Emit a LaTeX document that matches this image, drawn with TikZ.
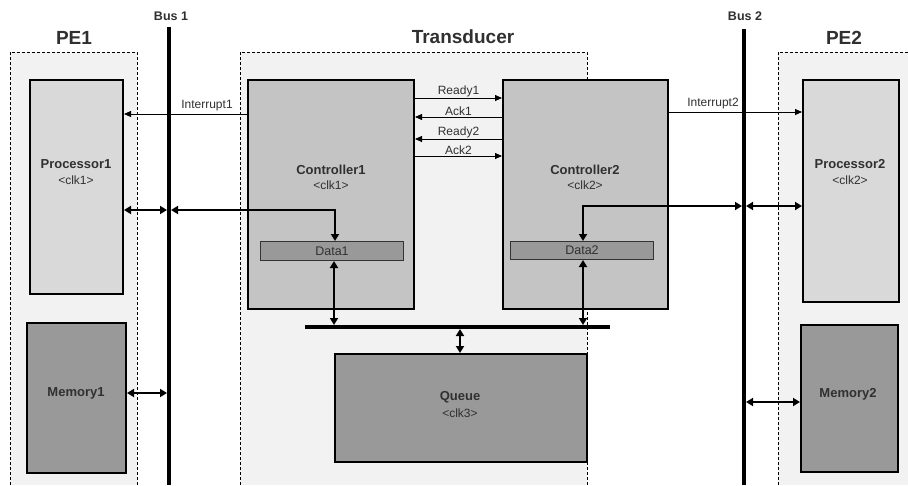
\documentclass[tikz,border=0pt]{standalone}
\usepackage{fontspec}
\setmainfont{Liberation Sans}
\usetikzlibrary{arrows.meta}
\definecolor{txt}{HTML}{303030}
\definecolor{bggray}{HTML}{F2F2F2}
\definecolor{procgray}{HTML}{D9D9D9}
\definecolor{ctrlgray}{HTML}{C4C4C4}
\definecolor{memgray}{HTML}{999999}
\tikzset{
  x=1pt, y=-1pt,
  group/.style={draw=black, dash pattern=on 3pt off 2pt, line width=0.8pt},
  blk/.style={draw=black, line width=2pt, inner sep=0pt, anchor=north west},
  databar/.style={draw=black!80, fill=memgray, line width=1pt, inner sep=0pt, anchor=north west, font=\fontsize{12.5}{14}\selectfont, text=txt},
  title/.style={font=\bfseries\fontsize{13}{15}\selectfont, text=txt, align=center},
  sub/.style={font=\fontsize{12}{14}\selectfont, text=txt},
  sig/.style={font=\fontsize{12}{14}\selectfont, text=txt, inner sep=1pt},
  bus/.style={line width=3.5pt},
  thin/.style={line width=0.8pt, -{Triangle[length=7pt,width=6pt]}},
  thick/.style={line width=2.2pt, {Triangle[length=7pt,width=8pt]}-{Triangle[length=7pt,width=8pt]}},
}
\begin{document}
\begin{tikzpicture}
\useasboundingbox (0,0) rectangle (908,485);
% groups
\fill[bggray] (10,52) rectangle (137,485);
\draw[group] (10,485) -- (10,52) -- (137,52) -- (137,485);
\fill[bggray] (240,52) rectangle (587,485);
\draw[group] (240,485) -- (240,52) -- (587,52) -- (587,485);
\fill[bggray] (778,52) rectangle (908,485);
\draw[group] (778,485) -- (778,52) -- (908,52);
\node[font=\bfseries\fontsize{19}{22}\selectfont, text=txt] (pe1) at (74,38) {PE1};
\node[font=\bfseries\fontsize{19}{22}\selectfont, text=txt] (tr) at (463,37) {Transducer};
\node[font=\bfseries\fontsize{19}{22}\selectfont, text=txt] (pe2) at (844,38) {PE2};
% buses
\coordinate (b1t) at (169,27); \coordinate (b1b) at (169,485);
\coordinate (b2t) at (744,29); \coordinate (b2b) at (744,485);
\draw[bus] (b1t) -- (b1b);
\draw[bus] (b2t) -- (b2b);
\node[font=\bfseries\fontsize{12.5}{14}\selectfont, text=txt] (bus1) at (171,16) {Bus 1};
\node[font=\bfseries\fontsize{12.5}{14}\selectfont, text=txt] (bus2) at (745,16) {Bus 2};
% blocks
\node[blk, fill=procgray, minimum width=93pt, minimum height=214pt] (p1) at (29,79) {};
\node[blk, fill=memgray, minimum width=99pt, minimum height=150pt] (m1) at (26,322) {};
\node[blk, fill=ctrlgray, minimum width=166pt, minimum height=229pt] (c1) at (247,79) {};
\node[blk, fill=ctrlgray, minimum width=165pt, minimum height=229pt] (c2) at (502,79) {};
\node[blk, fill=procgray, minimum width=96pt, minimum height=222pt] (p2) at (802,79) {};
\node[blk, fill=memgray, minimum width=97pt, minimum height=147pt] (m2) at (800,324) {};
\node[blk, fill=memgray, minimum width=252pt, minimum height=108pt] (q) at (334,353) {};
\node[databar, minimum width=143pt, minimum height=19pt] (d1) at (260,241) {Data1};
\node[databar, minimum width=143pt, minimum height=18pt] (d2) at (510,241) {Data2};
% block texts
\node[title] (p1t) at (76,164) {Processor1};
\node[sub] (p1s) at (76,180) {<clk1>};
\node[title] (m1t) at (76,393) {Memory1};
\node[title] (c1t) at (331,170) {Controller1};
\node[sub] (c1s) at (331,185) {<clk1>};
\node[title] (c2t) at (585,170) {Controller2};
\node[sub] (c2s) at (585,185) {<clk2>};
\node[title] (p2t) at (850,164) {Processor2};
\node[sub] (p2s) at (850,180) {<clk2>};
\node[title] (m2t) at (848,394) {Memory2};
\node[title] (qt) at (460,397) {Queue};
\node[sub] (qs) at (460,413) {<clk3>};
% handshake signals
\draw[thin] (c1.east |- 0,98) -- node[sig, above, inner sep=0.5pt] (r1) {Ready1} (c2.west |- 0,98);
\draw[thin] (c2.west |- 0,117) -- node[sig, above, inner sep=0.5pt] (a1) {Ack1} (c1.east |- 0,117);
\draw[thin] (c2.west |- 0,139) -- node[sig, above, inner sep=0.5pt] (r2) {Ready2} (c1.east |- 0,139);
\draw[thin] (c1.east |- 0,156) -- node[sig, above, inner sep=0.5pt] (a2) {Ack2} (c2.west |- 0,156);
% interrupts
\draw[thin] (c1.west |- 0,114) -- (p1.east |- 0,114);
\node[sig, anchor=south] (i1) at (207,112) {Interrupt1};
\draw[thin] (c2.east |- 0,112) -- (p2.west |- 0,112);
\node[sig, anchor=south] (i2) at (713,110) {Interrupt2};
% bus connections
\draw[thick] (p1.east |- 0,210) -- ([xshift=-2pt]b1t |- 0,210);
\draw[thick] ([xshift=2pt]b1t |- 0,210) -| (d1.north -| 335,0);
\draw[thick] (d2.north -| 583,0) |- ([xshift=-2pt]b2t |- 0,206);
\draw[thick] ([xshift=2pt]b2t |- 0,206) -- (p2.west |- 0,206);
\draw[thick] (m1.east |- 0,393) -- ([xshift=-2pt]b1t |- 0,393);
\draw[thick] ([xshift=2pt]b2t |- 0,402) -- (m2.west |- 0,402);
% internal bus
\coordinate (ibl) at (305,327); \coordinate (ibr) at (610,327);
\draw[bus] (ibl) -- (ibr);
\draw[thick] (d1.south -| 334,0) -- (334,325);
\draw[thick] (d2.south -| 583,0) -- (583,325);
\draw[thick] (460,329) -- (q.north -| 460,0);
\end{tikzpicture}
\end{document}
